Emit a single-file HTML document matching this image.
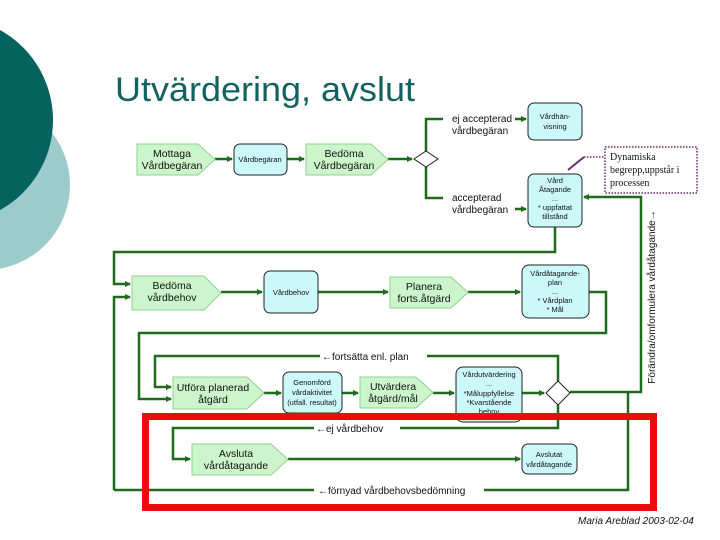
<!DOCTYPE html>
<html><head><meta charset="utf-8"><style>
html,body{margin:0;padding:0;background:#fff;width:720px;height:540px;overflow:hidden}
svg{display:block}
text{font-family:"Liberation Sans","DejaVu Sans",sans-serif}
</style></head><body>
<svg width="720" height="540" viewBox="0 0 720 540" xmlns="http://www.w3.org/2000/svg">
<defs>
<marker id="a" markerWidth="6" markerHeight="6" refX="5" refY="3" orient="auto" markerUnits="userSpaceOnUse"><path d="M0,0 L6,3 L0,6 z" fill="#1e6b1e"/></marker>
</defs>
<circle cx="-15" cy="185" r="85" fill="#9ccbcb"/>
<circle cx="-50" cy="120" r="103" fill="#05625f"/>
<text x="115" y="101" font-size="34" fill="#14625f" textLength="300" lengthAdjust="spacingAndGlyphs">Utvärdering, avslut</text>

<g fill="none" stroke="#1e6b1e" stroke-width="2.5">
<line x1="215" y1="159" x2="232" y2="159" marker-end="url(#a)"/>
<line x1="287" y1="159" x2="304" y2="159" marker-end="url(#a)"/>
<line x1="388" y1="159" x2="412" y2="159" marker-end="url(#a)"/>
<polyline points="443,119 426,119 426,198 443,198"/>
<line x1="515" y1="119" x2="526" y2="119" marker-end="url(#a)"/>
<line x1="515" y1="209" x2="526" y2="209" marker-end="url(#a)"/>
<polyline points="555,227 555,252 114,252 114,284 130,284" marker-end="url(#a)"/>
<polyline points="114,490 114,297 130,297" marker-end="url(#a)"/>
<line x1="221" y1="292" x2="262" y2="292" marker-end="url(#a)"/>
<line x1="318" y1="292" x2="388" y2="292" marker-end="url(#a)"/>
<line x1="468" y1="292" x2="520" y2="292" marker-end="url(#a)"/>
<polyline points="589,292 606,292 606,333 139,333 139,399 171,399" marker-end="url(#a)"/>
<polyline points="570,392 641,392 641,197 584,197" marker-end="url(#a)"/>
<polyline points="320,356 155,356 155,387 171,387" marker-end="url(#a)"/>
<polyline points="427,356 558,356 558,381"/>
<line x1="264" y1="393" x2="281" y2="393" marker-end="url(#a)"/>
<line x1="342" y1="393" x2="358" y2="393" marker-end="url(#a)"/>
<line x1="433" y1="393" x2="454" y2="393" marker-end="url(#a)"/>
<line x1="522" y1="393" x2="544" y2="393" marker-end="url(#a)"/>
<polyline points="558,405 558,428 400,428"/>
<polyline points="314,428 173,428 173,459 190,459" marker-end="url(#a)"/>
<line x1="288" y1="459" x2="520" y2="459" marker-end="url(#a)"/>
<polyline points="628,392 628,490 484,490"/>
<line x1="314" y1="490" x2="114" y2="490"/>
</g>

<g fill="#ccf5cc" stroke="#8fd08f" stroke-width="1">
<polygon points="137,144 198,144 215,159.5 198,175 137,175"/>
<polygon points="306,144 371,144 388,159.5 371,175 306,175"/>
<polygon points="132,276 204,276 221,293 204,310 132,310"/>
<polygon points="390,277 451,277 468,292.5 451,308 390,308"/>
<polygon points="173,377 247,377 264,393 247,409 173,409"/>
<polygon points="360,377 416,377 433,392.5 416,408 360,408"/>
<polygon points="192,444 271,444 288,459.5 271,475 192,475"/>
</g>
<g fill="#ccf8fa" stroke="#222" stroke-width="1">
<rect x="234" y="144" width="53" height="31" rx="6"/>
<rect x="528" y="103" width="54" height="37" rx="6"/>
<rect x="528" y="174" width="54" height="53" rx="6"/>
<rect x="264" y="271" width="54" height="42" rx="6"/>
<rect x="522" y="265" width="67" height="53" rx="7"/>
<rect x="283" y="372" width="59" height="41" rx="6"/>
<rect x="456" y="367" width="66" height="55" rx="7"/>
<rect x="522" y="444" width="55" height="30" rx="6"/>
</g>
<g fill="#fff" stroke="#222" stroke-width="1">
<polygon points="414,159 426,151 438,159 426,167"/>
<polygon points="546,393 558,381 570,393 558,405"/>
</g>

<g font-size="10.5" fill="#111" text-anchor="middle">
<text x="172" y="157">Mottaga</text><text x="172" y="169">Vårdbegäran</text>
<text x="344" y="157">Bedöma</text><text x="344" y="169">Vårdbegäran</text>
<text x="172" y="289">Bedöma</text><text x="172" y="301">vårdbehov</text>
<text x="424" y="290">Planera</text><text x="424" y="302">forts.åtgärd</text>
<text x="213" y="391">Utföra planerad</text><text x="213" y="403">åtgärd</text>
<text x="393" y="390">Utvärdera</text><text x="393" y="402">åtgärd/mål</text>
<text x="236" y="457">Avsluta</text><text x="236" y="469">vårdåtagande</text>
</g>
<g font-size="10" fill="#111">
<text x="452" y="122">ej accepterad</text><text x="452" y="134">vårdbegäran</text>
<text x="452" y="201">accepterad</text><text x="452" y="213">vårdbegäran</text>
<text x="322" y="360">←fortsätta enl. plan</text>
<text x="316" y="432">←ej vårdbehov</text>
<text x="318" y="494">←förnyad vårdbehovsbedömning</text>
</g>
<g font-size="7.5" fill="#111" text-anchor="middle">
<text x="260" y="162">Vårdbegäran</text>
<text x="555" y="119">Vårdhän-</text><text x="555" y="129">visning</text>
<text x="555" y="183">Vård</text><text x="555" y="192">Åtagande</text><text x="555" y="201">...</text><text x="555" y="210">* uppfattat</text><text x="555" y="219">tillstånd</text>
<text x="291" y="295">Vårdbehov</text>
<text x="555" y="276">Vårdåtagande-</text><text x="555" y="285">plan</text><text x="555" y="294">...</text><text x="555" y="303">* Vårdplan</text><text x="555" y="312">* Mål</text>
<text x="312" y="385">Genomförd</text><text x="312" y="395">vårdaktivitet</text><text x="312" y="405">(utfall. resultat)</text>
<text x="489" y="377">Vårdutvärdering</text><text x="489" y="386">...</text><text x="489" y="396">*Måluppfyllelse</text><text x="489" y="405">*Kvarstående</text><text x="489" y="414">behov</text>
<text x="549" y="457">Avslutat</text><text x="549" y="467">vårdåtagande</text>
</g>

<rect x="145.5" y="416.5" width="508" height="91" fill="none" stroke="#ee0a0a" stroke-width="7"/>

<rect x="605" y="147" width="92" height="46" fill="#fff" stroke="#6a2a6a" stroke-width="1.5" stroke-dasharray="1.5,1.5"/>
<line x1="568" y1="170" x2="584" y2="157" stroke="#6a2a6a" stroke-width="2"/>
<line x1="584" y1="157" x2="604" y2="157" stroke="#6a2a6a" stroke-width="1.5" stroke-dasharray="1.5,1.5"/>
<g font-family="Liberation Serif,serif" font-size="10" fill="#111">
<text x="610" y="160" style="font-family:'Liberation Serif',serif">Dynamiska</text>
<text x="610" y="173" style="font-family:'Liberation Serif',serif">begrepp,uppstår i</text>
<text x="610" y="186" style="font-family:'Liberation Serif',serif">processen</text>
</g>
<text transform="translate(655,297) rotate(-90)" font-size="10" fill="#111" text-anchor="middle">Förändra/omformulera vårdåtagande→</text>
<text x="578" y="524" font-size="10" font-style="italic" fill="#111">Maria Areblad 2003-02-04</text>
</svg>
</body></html>
